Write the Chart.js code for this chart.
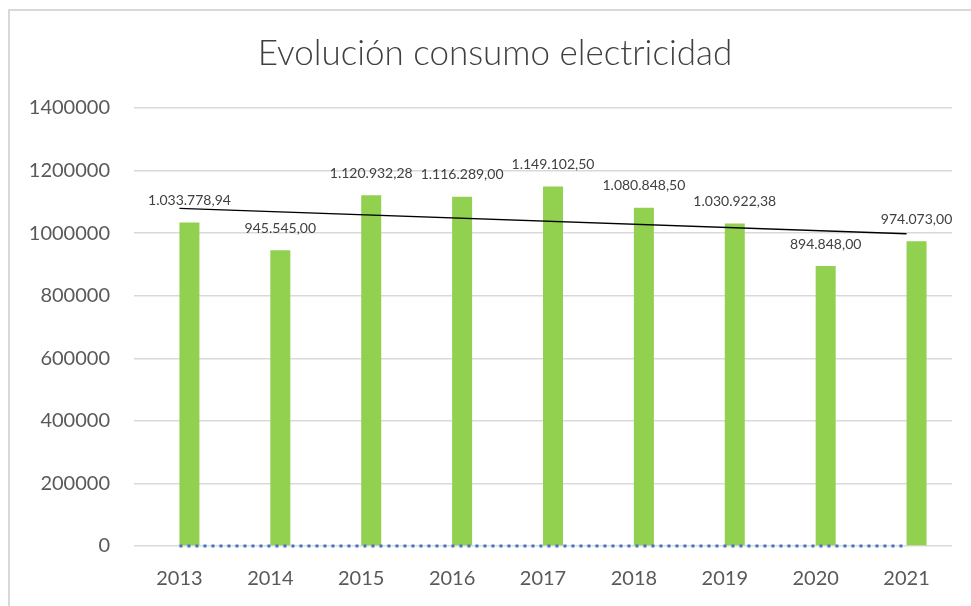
<!DOCTYPE html>
<html>
<head>
<meta charset="utf-8">
<script src="https://cdn.jsdelivr.net/npm/chart.js@4/dist/chart.umd.min.js"></script>
<style>
  html, body { margin: 0; padding: 0; background: #fff; }
  #wrap { position: relative; width: 971px; height: 606px; overflow: hidden; }
  #frame { position: absolute; left: 8px; top: 9px; width: 1000px; height: 700px;
           border-left: 2px solid #d9d9d9; border-top: 2px solid #d9d9d9; }
  canvas { position: absolute; left: 0; top: 0; }
</style>
</head>
<body>
<div id="wrap">
  <div id="frame"></div>
  <canvas id="consumoChart" width="971" height="606"></canvas>
</div>
<script>
const years = ['2013', '2014', '2015', '2016', '2017', '2018', '2019', '2020', '2021'];
const consumo = [1033778.94, 945545.00, 1120932.28, 1116289.00, 1149102.50, 1080848.50, 1030922.38, 894848.00, 974073.00];
const serieCero = [0, 0, 0, 0, 0, 0, 0, 0, 0];
// linea de tendencia: extremos
const tendencia = [1079000, null, null, null, null, null, null, null, 998000];
const yTicks = [0, 200000, 400000, 600000, 800000, 1000000, 1200000, 1400000];

function formatEs(v) {
    const parts = v.toFixed(2).split('.');
    return parts[0].replace(/\B(?=(\d{3})+(?!\d))/g, '.') + ',' + parts[1];
}

const dataLabels = {
    id: 'dataLabels',
    afterLayout(chart) {
        // mover el titulo un poco a la derecha, como en el original
        if (chart.titleBlock) chart.titleBlock.left += 38;
    },
    afterDatasetsDraw(chart) {
        const meta = chart.getDatasetMeta(1);
        const ctx = chart.ctx;
        ctx.save();
        ctx.font = '14px Lato';
        ctx.fillStyle = '#404040';
        ctx.textAlign = 'center';
        ctx.textBaseline = 'middle';
        meta.data.forEach((bar, i) => {
            ctx.fillText(formatEs(consumo[i]), bar.x, bar.y - 22);
        });
        ctx.restore();
    }
};

new Chart(document.getElementById('consumoChart'), {
    type: 'bar',
    data: {
        labels: years,
        datasets: [
            {
                label: 'Serie 1',
                data: serieCero,
                backgroundColor: '#4472C4',
                borderWidth: 0,
                order: 2
            },
            {
                label: 'Consumo',
                data: consumo,
                backgroundColor: '#92D050',
                borderWidth: 0,
                order: 2
            },
            {
                type: 'line',
                label: 'Tendencia serie 1',
                data: serieCero,
                borderColor: '#4472C4',
                borderWidth: 3,
                borderDash: [3, 5],
                borderCapStyle: 'butt',
                pointRadius: 0,
                fill: false,
                clip: false,
                order: 0
            },
            {
                type: 'line',
                label: 'Tendencia consumo',
                data: tendencia,
                borderColor: '#000000',
                borderWidth: 1.3,
                pointRadius: 0,
                spanGaps: true,
                fill: false,
                order: 0
            }
        ]
    },
    options: {
        responsive: false,
        animation: false,
        layout: { padding: { left: 0, right: 19, top: 0, bottom: 0 } },
        datasets: {
            bar: { categoryPercentage: 0.44, barPercentage: 1 }
        },
        plugins: {
            legend: { display: false },
            tooltip: { enabled: false },
            title: {
                display: true,
                text: 'Evolución consumo electricidad',
                color: '#404040',
                font: { family: 'Lato', size: 35, weight: 300 },
                padding: { top: 33, bottom: 33 }
            }
        },
        scales: {
            x: {
                grid: { display: false },
                border: { display: false },
                ticks: {
                    color: '#595959',
                    font: { family: 'Lato', size: 20 },
                    padding: 13
                },
                afterFit: (axis) => { axis.height = 60; }
            },
            y: {
                min: 0,
                max: 1400000,
                afterBuildTicks: (axis) => { axis.ticks = yTicks.map(v => ({ value: v })); },
                grid: { color: '#d9d9d9', lineWidth: 1.5, drawTicks: false },
                border: { display: false },
                ticks: {
                    color: '#595959',
                    font: { family: 'Lato', size: 20 },
                    padding: 24,
                    callback: (v) => String(v)
                },
                afterFit: (axis) => { axis.width = 134; }
            }
        }
    },
    plugins: [dataLabels]
});
</script>
</body>
</html>
